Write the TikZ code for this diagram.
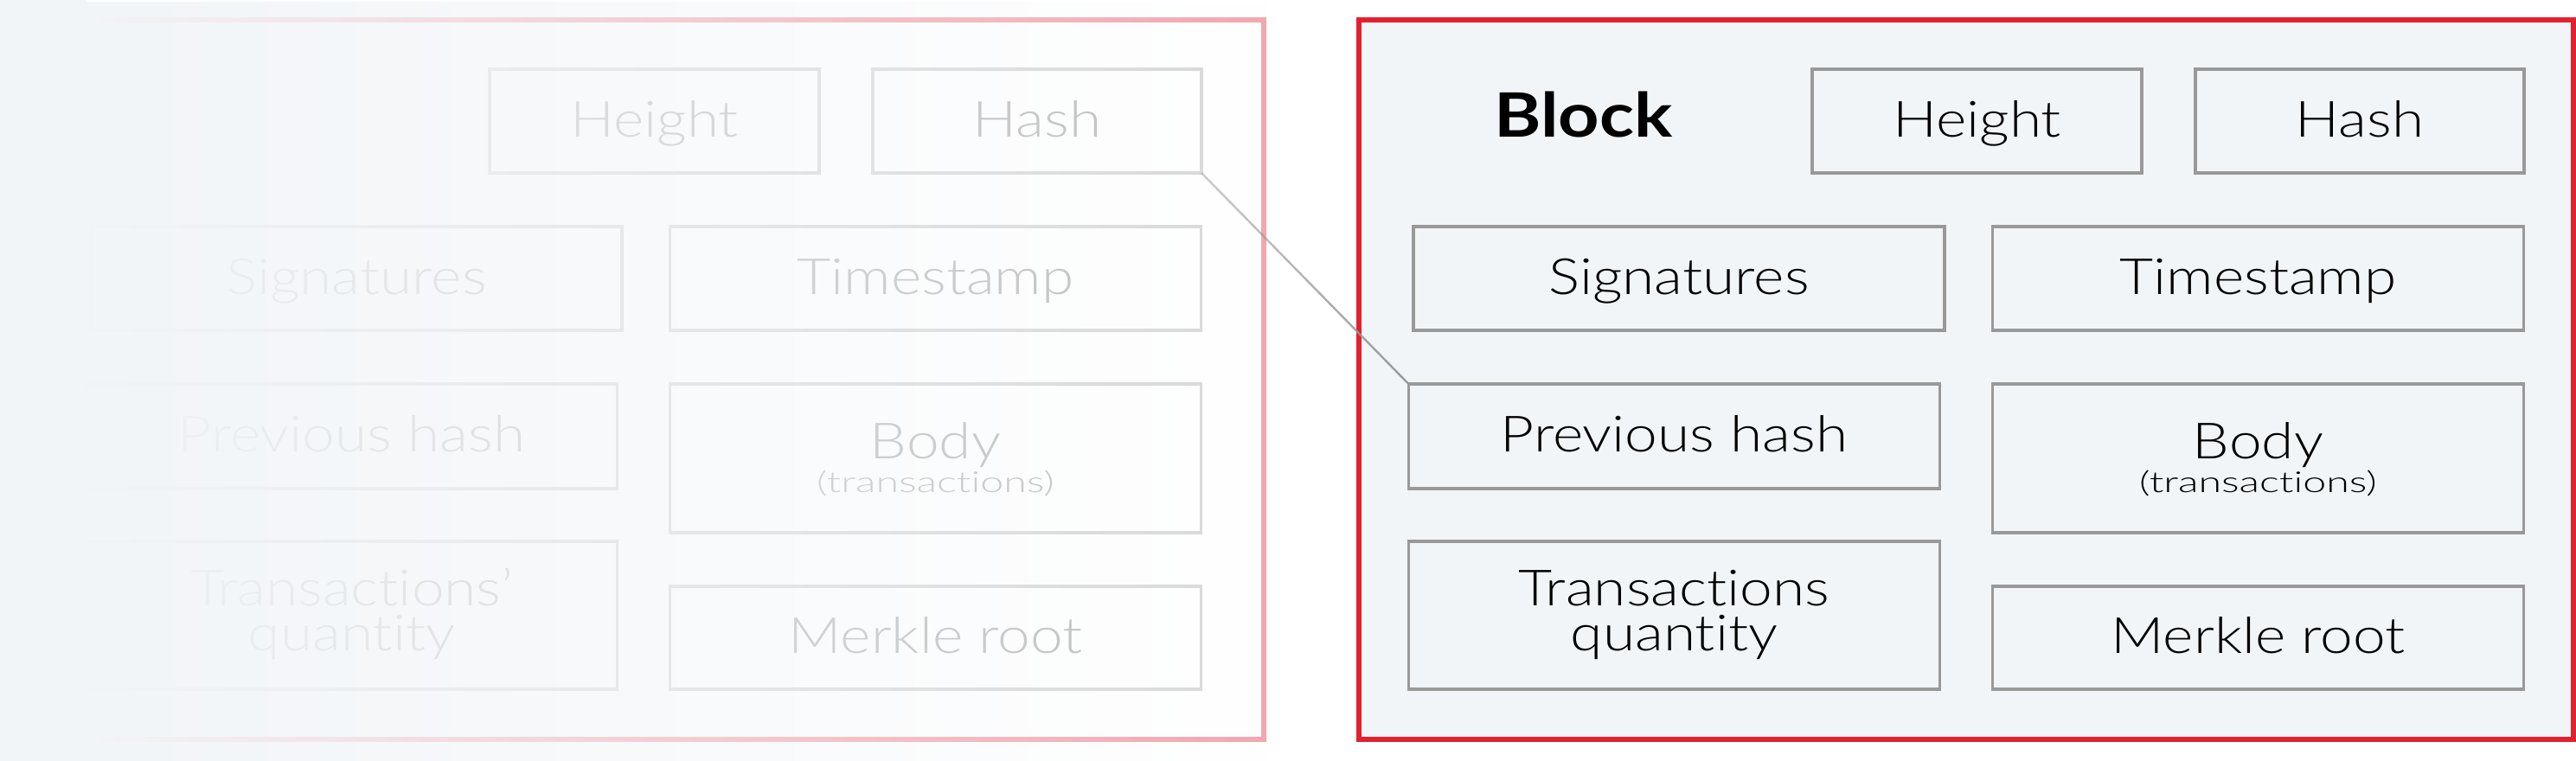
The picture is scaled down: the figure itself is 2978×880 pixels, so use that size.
\documentclass[tikz,border=0pt]{standalone}
\usepackage{fontspec}
\setmainfont{Lato}[UprightFont=* Light, BoldFont=* Bold, FakeStretch=1.17, Ligatures=CommonOff]
\newfontfamily\subfont{Lato}[UprightFont=* Light, FakeStretch=1.45, Ligatures=CommonOff]
\usetikzlibrary{fadings}
\definecolor{bgc}{HTML}{F2F5F8}
\definecolor{redc}{HTML}{E3202F}
\definecolor{pinkc}{HTML}{F4A7AE}
\definecolor{boxc}{HTML}{999999}
\definecolor{fboxc}{HTML}{D9D9D9}
\definecolor{ftxt}{HTML}{BDBDBD}
\tikzfading[name=leftfade, left color=transparent!0, middle color=transparent!40, right color=transparent!100]
\tikzfading[name=linefade, left color=transparent!50, right color=transparent!0]
\newcommand{\subtxt}{\subfont\fontsize{33.5}{39}\selectfont}
\begin{document}
\begin{tikzpicture}[x=1bp,y=-1bp,
  box/.style={draw=boxc, line width=3.7bp, inner sep=0pt, outer sep=0pt, text=black,
    font=\fontsize{58}{52}\selectfont, text height=42bp, text depth=6bp, align=center,
    minimum width=614bp, minimum height=120bp},
  fbox/.style={box, draw=fboxc, text=ftxt},
  frame/.style={line width=6bp, inner sep=0pt, outer sep=0pt, minimum height=832bp},
  bodyfont/.style={font=\fontsize{58}{39}\selectfont, text height=98bp, text depth=20bp, minimum height=172bp},
  txqfont/.style={font=\fontsize{58}{52}\selectfont, text height=100bp, text depth=19bp, minimum height=171bp}
]
\useasboundingbox (0,0) rectangle (2978,880);
\fill[white] (0,0) rectangle (2978,880);

% faded left copy
\node[frame, draw=pinkc, minimum width=1419bp] (frameL) at (751.5,439) {};
\node[fbox, minimum width=381bp] (heightL) at (756.5,140) {Height};
\node[fbox, minimum width=380bp] (hashL) at (1199,140) {Hash};
\node[fbox] (sigL) at (412,322) {Signatures};
\node[fbox] (timeL) at (1081.5,322) {Timestamp};
\node[fbox, minimum height=121bp] (prevL) at (406.5,504.5) {Previous hash};
\node[fbox, bodyfont] (bodyL) at (1081.5,530) {Body\\{\subtxt (transactions)}};
\node[fbox, txqfont] (txqL) at (406.5,711.5) {Transactions’\\quantity};
\node[fbox, minimum height=119bp] (merkL) at (1081.5,737.5) {Merkle root};

% fade towards the left
\fill[bgc] (0,0) rectangle (100,880);
\fill[bgc, path fading=leftfade] (99,0) rectangle (1466,880);

% main block
\node[frame, draw=redc, fill=bgc, minimum width=1404bp] (frameR) at (2273,439) {};
\node[anchor=base west, inner sep=0pt, font=\fontsize{71}{71}\selectfont\bfseries] (blockR) at (1727,158) {Block};
\node[box, minimum width=381bp] (heightR) at (2285.5,140) {Height};
\node[box, minimum width=380bp] (hashR) at (2728,140) {Hash};
\node[box] (sigR) at (1941,322) {Signatures};
\node[box] (timeR) at (2610.5,322) {Timestamp};
\node[box, minimum height=121bp] (prevR) at (1935.5,504.5) {Previous hash};
\node[box, bodyfont] (bodyR) at (2610.5,530) {Body\\{\subtxt (transactions)}};
\node[box, txqfont] (txqR) at (1935.5,711.5) {Transactions\\quantity};
\node[box, minimum height=119bp] (merkR) at (2610.5,737.5) {Merkle root};

% connector
\draw[boxc, line width=2.4bp, path fading=linefade] (hashL.south east) -- (prevR.north west);
\end{tikzpicture}
\end{document}
